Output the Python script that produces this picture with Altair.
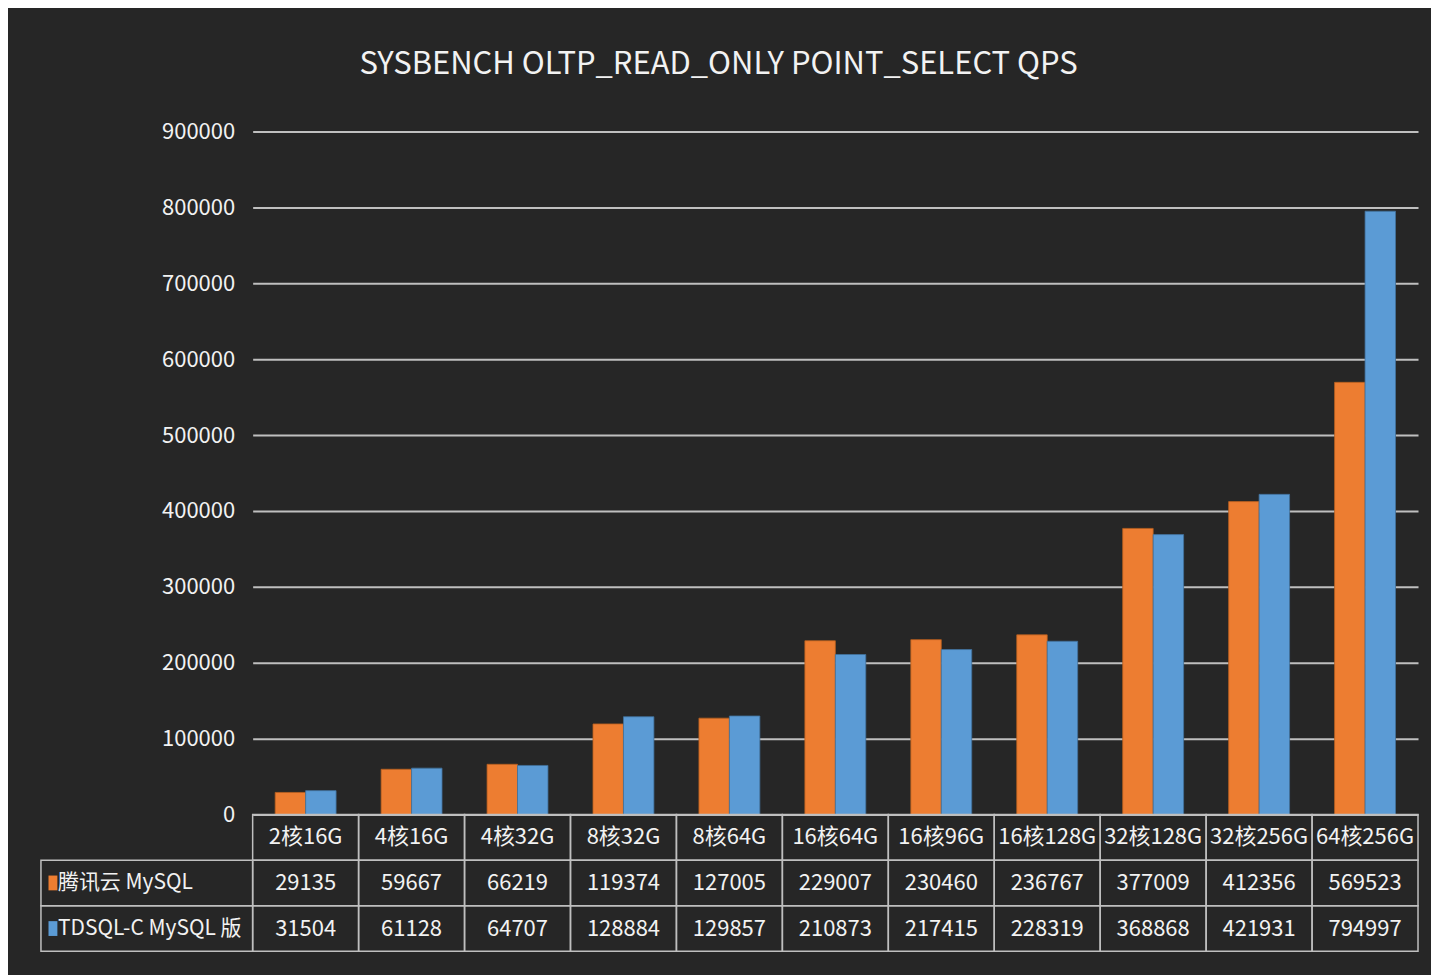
import altair as alt
import pandas as pd

# ---- data ----
categories = ["2核16G", "4核16G", "4核32G", "8核32G", "8核64G", "16核64G",
              "16核96G", "16核128G", "32核128G", "32核256G", "64核256G"]
series_names = ["腾讯云 MySQL", "TDSQL-C MySQL 版"]
tencent_mysql = [29135, 59667, 66219, 119374, 127005, 229007,
                 230460, 236767, 377009, 412356, 569523]
tdsql_c_mysql = [31504, 61128, 64707, 128884, 129857, 210873,
                 217415, 228319, 368868, 421931, 794997]
y_ticks = [0, 100000, 200000, 300000, 400000, 500000, 600000, 700000, 800000, 900000]
title_text = "SYSBENCH OLTP_READ_ONLY POINT_SELECT QPS"
row_keys = ["header", "s0", "s1"]

# ---- styling ----
BG = "#262626"
TXT = "#f2f2f2"
GRID = "#bfbfbf"
COLORS = ["#ED7D31", "#5B9BD5"]
EDGES = ["#b8601f", "#41719c"]
FONT = "Noto Sans CJK SC, sans-serif"
FS = 22
W, H = 1167, 684
TABLE_BOTTOM = 821

# ---- tables ----
bar_rows = []
for i, c in enumerate(categories):
    bar_rows.append({"cat": c, "series": series_names[0], "value": tencent_mysql[i]})
    bar_rows.append({"cat": c, "series": series_names[1], "value": tdsql_c_mysql[i]})
bar_df = pd.DataFrame(bar_rows)

cell_rows = []
for i, c in enumerate(categories):
    cell_rows.append({"cat": c, "row": "header", "text": c})
    cell_rows.append({"cat": c, "row": "s0", "text": str(tencent_mysql[i])})
    cell_rows.append({"cat": c, "row": "s1", "text": str(tdsql_c_mysql[i])})
cell_df = pd.DataFrame(cell_rows)

label_df = pd.DataFrame({"row": ["s0", "s1"], "series": series_names})

# ---- bars ----
bars = alt.Chart(bar_df).mark_bar(strokeWidth=0.8).encode(
    x=alt.X("cat:N", sort=categories,
            scale=alt.Scale(domain=categories, paddingInner=0.425, paddingOuter=0.2125),
            axis=None),
    xOffset=alt.XOffset("series:N", scale=alt.Scale(domain=series_names)),
    y=alt.Y("value:Q", scale=alt.Scale(domain=[0, 900000], nice=False),
            axis=alt.Axis(values=y_ticks, title=None, domain=False, ticks=False,
                          grid=True, gridColor=GRID, gridWidth=2, format="d",
                          labelColor=TXT, labelFont=FONT, labelFontSize=FS,
                          labelPadding=18)),
    color=alt.Color("series:N", scale=alt.Scale(domain=series_names, range=COLORS), legend=None),
    stroke=alt.Stroke("series:N", scale=alt.Scale(domain=series_names, range=EDGES), legend=None),
)

# ---- table ----
tx = alt.X("cat:N", sort=categories,
           scale=alt.Scale(domain=categories, paddingInner=0, paddingOuter=0), axis=None)
ty = alt.Y("row:N", sort=row_keys,
           scale=alt.Scale(domain=row_keys, range=[H, TABLE_BOTTOM], paddingInner=0, paddingOuter=0),
           axis=None)

cells = alt.Chart(cell_df).mark_rect(fillOpacity=0, stroke=GRID, strokeWidth=1.5).encode(x=tx, y=ty)
cell_text = alt.Chart(cell_df).mark_text(
    color=TXT, font=FONT, fontSize=FS, align="center", baseline="middle"
).encode(x=tx, y=ty, text="text:N")

label_box = alt.Chart(label_df).mark_rect(fillOpacity=0, stroke=GRID, strokeWidth=1.5).encode(
    x=alt.value(-212), x2=alt.value(0), y=ty)
label_sq = alt.Chart(label_df).mark_point(
    shape="M-0.6,-1L0.6,-1L0.6,1L-0.6,1Z", filled=True, size=220, opacity=1, strokeWidth=0
).encode(
    x=alt.value(-200), y=ty,
    color=alt.Color("series:N", scale=alt.Scale(domain=series_names, range=COLORS), legend=None))
label_text = alt.Chart(label_df).mark_text(
    color=TXT, font=FONT, fontSize=21, align="left", baseline="middle"
).encode(x=alt.value(-195), y=ty, text="series:N")

chart = alt.layer(bars, cells, cell_text, label_box, label_sq, label_text).resolve_scale(
    x="independent", y="independent", color="independent"
).properties(
    width=W, height=H,
    background=BG,
    padding={"left": 245, "top": 123, "right": 13, "bottom": 160},
    autosize=alt.AutoSizeParams(type="none"),
    title=alt.TitleParams(title_text, color=TXT, font=FONT, fontSize=31, fontWeight="normal",
                          anchor="middle", dx=-117, offset=16, baseline="alphabetic"),
).configure_view(stroke=None)

chart.save("out.html", embed_options={"renderer": "svg", "actions": False})
